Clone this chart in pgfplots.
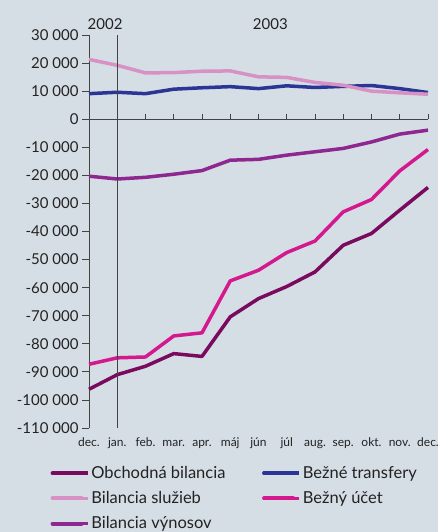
\documentclass[border=0pt]{standalone}
\usepackage{pgfplots}
\pgfplotsset{compat=1.18}
\usepackage{fontspec}
\setmainfont{Lato}
\definecolor{bg}{HTML}{D5DEE5}
\definecolor{txt}{HTML}{222222}
\definecolor{obch}{HTML}{7A0A5E}
\definecolor{tran}{HTML}{2B3595}
\definecolor{sluz}{HTML}{D891C5}
\definecolor{ucet}{HTML}{D4188E}
\definecolor{vyno}{HTML}{8E2890}
\begin{document}
\begin{tikzpicture}
\fill[bg] (0pt,0pt) rectangle (438pt,532pt);
\useasboundingbox (0pt,0pt) rectangle (438pt,532pt);
\begin{axis}[at={(89pt,104pt)},anchor=south west,scale only axis,width=339pt,height=393pt,
xmin=0,xmax=12,ymin=-110000,ymax=30000,clip=false,scaled y ticks=false,
axis y line*=left,axis x line*=bottom,x axis line style={draw=none},
axis line style={txt!85,line width=0.8pt},
xtick={0,...,12},xticklabels={dec.,jan.,feb.,mar.,apr.,máj,jún,júl,aug.,sep.,okt.,nov.,dec.},
x tick style={draw=none},
xticklabel style={font=\fontsize{12}{12}\selectfont,text=txt,text height=9pt,text depth=2pt,yshift=1pt},
ytick={-110000,-100000,...,30000},
yticklabels={-110 000,-100 000,-90 000,-80 000,-70 000,-60 000,-50 000,-40 000,-30 000,-20 000,-10 000,0,10 000,20 000,30 000},
y tick style={txt!85,line width=0.8pt},tick align=outside,major tick length=7pt,
yticklabel style={font=\fontsize{15}{15}\selectfont,text=txt},
legend style={draw=none,fill=none,at={(axis description cs:-0.125,-0.087)},anchor=north west,
legend columns=2,font=\fontsize{16.5}{18}\selectfont,text=txt,row sep=7.5pt},
legend cell align=left,
legend image code/.code={\draw[#1,line width=4pt,line cap=round] (0pt,0pt) -- (29pt,0pt);\path (-1pt,0pt) -- (35pt,0pt);},
every axis plot/.append style={line width=3.5pt,line join=round}]
\addplot[obch] coordinates {(0,-96200)(1,-91000)(2,-88000)(3,-83500)(4,-84500)(5,-70400)(6,-63900)(7,-59600)(8,-54400)(9,-44900)(10,-40700)(11,-32400)(12,-24300)};
\addlegendentry{\makebox[168pt][l]{Obchodná bilancia}}
\addplot[tran] coordinates {(0,9100)(1,9600)(2,9100)(3,10700)(4,11200)(5,11600)(6,10900)(7,11900)(8,11300)(9,11700)(10,12000)(11,10900)(12,9500)};
\addlegendentry{Bežné transfery}
\addplot[sluz] coordinates {(0,21300)(1,19200)(2,16500)(3,16600)(4,17100)(5,17200)(6,15100)(7,14900)(8,13100)(9,12100)(10,10000)(11,9400)(12,8900)};
\addlegendentry{\makebox[168pt][l]{Bilancia služieb}}
\addplot[ucet] coordinates {(0,-87300)(1,-85000)(2,-84700)(3,-77200)(4,-76100)(5,-57600)(6,-53800)(7,-47500)(8,-43400)(9,-33000)(10,-28600)(11,-18400)(12,-10800)};
\addlegendentry{Bežný účet}
\addplot[vyno] coordinates {(0,-20300)(1,-21300)(2,-20700)(3,-19600)(4,-18300)(5,-14600)(6,-14300)(7,-12800)(8,-11600)(9,-10400)(10,-8100)(11,-5300)(12,-3900)};
\addlegendentry{\makebox[168pt][l]{Bilancia výnosov}}
\draw[txt!85,line width=0.8pt] (axis cs:0,0) -- (axis cs:12,0);
\pgfplotsinvokeforeach{1,...,12}{\draw[txt!85,line width=0.8pt] (axis cs:#1,0) -- ++(0pt,5pt);}
\draw[txt!85,line width=0.8pt] (axis cs:1,-110000) -- (axis cs:1,30000);
\node[font=\fontsize{15}{15}\selectfont,text=txt] at (axis cs:0.57,34000) {2002};
\node[font=\fontsize{15}{15}\selectfont,text=txt] at (axis cs:6.42,34000) {2003};
\end{axis}
\end{tikzpicture}
\end{document}
